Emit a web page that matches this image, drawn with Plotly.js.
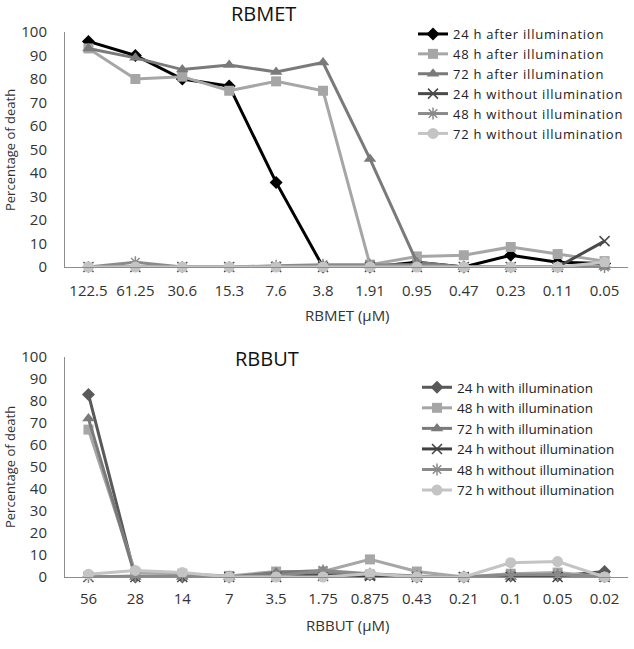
<!DOCTYPE html>
<html><head><meta charset="utf-8">
<script src="https://cdn.plot.ly/plotly-3.0.1.min.js"></script>
<style>html,body{margin:0;padding:0;background:#fff}#c{width:634px;height:649px}
.legendtext{letter-spacing:0.75px}</style>
</head><body><div id="c"></div>
<script>
// Top chart (RBMET)
const metConc = ["122.5","61.25","30.6","15.3","7.6","3.8","1.91","0.95","0.47","0.23","0.11","0.05"];
const met24After = [96, 90, 80, 77, 36, 0, 0, 2, 0, 5, 2, 1.5];
const met48After = [93, 80, 81, 75, 79, 75, 1, 4.5, 5, 8.5, 5.5, 2.5];
const met72After = [93, 89, 84, 86, 83, 87, 46, 2, 0, 0, 0, 0];
const met24Without = [0, 0, 0, 0, 0, 0, 0, 0, 0, 0, 0, 11];
const met48Without = [0, 2, 0, 0, 0.5, 1, 1, 1, 0, 0, 0, 0];
const met72Without = [0, 0, 0, 0, 0, 0, 0, 0, 0, 0, 0, 2];
const metNames = ["24 h after illumination","48 h after illumination","72 h after illumination","24 h without illumination","48 h without illumination","72 h without illumination"];

// Bottom chart (RBBUT)
const butConc = ["56","28","14","7","3.5","1.75","0.875","0.43","0.21","0.1","0.05","0.02"];
const but24With = [83, 0, 0, 0, 1, 1, 1, 0, 0, 0.5, 0.5, 2.5];
const but48With = [67, 2, 1.5, 0.5, 2.5, 2.5, 8, 2.5, 0, 1.5, 2, 0];
const but72With = [72, 0, 0, 0, 2, 3, 0, 0, 0, 0, 1, 0];
const but24Without = [0, 0, 0, 0, 0, 0.5, 0.5, 0, 0, 0, 0, 0];
const but48Without = [0, 0.5, 0.5, 0, 0.5, 3, 1.5, 0.5, 0, 1, 1, 0];
const but72Without = [1.3, 3, 2, 0, 0, 0, 1.5, 0, 0, 6.5, 7, 0];
const butNames = ["24 h with illumination","48 h with illumination","72 h with illumination","24 h without illumination","48 h without illumination","72 h without illumination"];

const styles = [
  {sym:"diamond", size:10, open:false},
  {sym:"square", size:10, open:false},
  {sym:"triangle-up", size:11, open:false},
  {sym:"x-thin-open", size:10, open:true},
  {sym:"asterisk-open", size:10, open:true},
  {sym:"circle", size:11, open:false}
];
const metColors = ["#000000","#a6a6a6","#7a7a7a","#4a4a4a","#8a8a8a","#c4c4c4"];
const butColors = ["#595959","#a6a6a6","#7a7a7a","#404040","#8a8a8a","#c4c4c4"];

function mk(x, y, name, i, colors, xa, ya, lg){
  const s = styles[i];
  return {
    x: x, y: y, name: name, type: "scatter", mode: "lines+markers",
    xaxis: xa, yaxis: ya, legend: lg, cliponaxis: false,
    line: {color: colors[i], width: 3},
    marker: {symbol: s.sym, size: s.size, color: colors[i],
             line: {color: colors[i], width: s.open ? 1.5 : 0}}
  };
}
const metSeries = [met24After, met48After, met72After, met24Without, met48Without, met72Without];
const butSeries = [but24With, but48With, but72With, but24Without, but48Without, but72Without];
const data = [];
metSeries.forEach((s,i)=>data.push(mk(metConc, s, metNames[i], i, metColors, "x", "y", "legend")));
butSeries.forEach((s,i)=>data.push(mk(butConc, s, butNames[i], i, butColors, "x2", "y2", "legend2")));

const W = 634, H = 649;
const fx = p => p / W, fy = p => 1 - p / H;
const tickFont = {family: "Open Sans", size: 15, color: "#333"};
function xax(anchor, standoff){
  return {domain: [fx(65), fx(628)], anchor: anchor, type: "category", range: [-0.5, 11.5],
    showline: true, linecolor: "#8c8c8c", linewidth: 1, showgrid: false, zeroline: false,
    ticks: "", ticklabelstandoff: standoff, tickfont: tickFont, fixedrange: true};
}
function yax(anchor, top, bottom){
  return {domain: [fy(bottom), fy(top)], anchor: anchor, range: [0, 100], dtick: 10,
    showline: true, linecolor: "#8c8c8c", linewidth: 1, showgrid: false, zeroline: false,
    ticks: "", ticklabelstandoff: 14, tickfont: tickFont, fixedrange: true};
}
const layout = {
  width: W, height: H, margin: {l: 0, r: 0, t: 0, b: 0},
  paper_bgcolor: "#fff", plot_bgcolor: "#fff", showlegend: true,
  xaxis: xax("y", 10), yaxis: yax("x", 32, 267),
  xaxis2: xax("y2", 8), yaxis2: yax("x2", 357, 577),
  legend: {x: fx(413), y: fy(19), xanchor: "left", yanchor: "top",
    font: {family: "Open Sans", size: 13, color: "#222"},
    bgcolor: "rgba(0,0,0,0)", tracegroupgap: 0, itemwidth: 30},
  legend2: {x: fx(417), y: fy(372), xanchor: "left", yanchor: "top",
    font: {family: "Open Sans", size: 13.5, color: "#222"},
    bgcolor: "rgba(0,0,0,0)", tracegroupgap: 0, itemwidth: 30},
  annotations: [
    {text: "RBMET", x: fx(263), y: fy(14), xref: "paper", yref: "paper", showarrow: false,
      xanchor: "center", yanchor: "middle", font: {family: "Open Sans", size: 20, color: "#111"}},
    {text: "RBBUT", x: fx(267), y: fy(358), xref: "paper", yref: "paper", showarrow: false,
      xanchor: "center", yanchor: "middle", font: {family: "Open Sans", size: 20, color: "#111"}},
    {text: "Percentage of death", x: fx(10), y: fy(150), xref: "paper", yref: "paper", showarrow: false,
      xanchor: "center", yanchor: "middle", textangle: -90, font: {family: "Open Sans", size: 13, color: "#333"}},
    {text: "Percentage of death", x: fx(10), y: fy(467), xref: "paper", yref: "paper", showarrow: false,
      xanchor: "center", yanchor: "middle", textangle: -90, font: {family: "Open Sans", size: 13, color: "#333"}},
    {text: "RBMET (µM)", x: fx(347), y: fy(315), xref: "paper", yref: "paper", showarrow: false,
      xanchor: "center", yanchor: "middle", font: {family: "Open Sans", size: 15, color: "#333"}},
    {text: "RBBUT (µM)", x: fx(347), y: fy(625), xref: "paper", yref: "paper", showarrow: false,
      xanchor: "center", yanchor: "middle", font: {family: "Open Sans", size: 15, color: "#333"}}
  ]
};
Plotly.newPlot("c", data, layout, {displayModeBar: false, staticPlot: true});
</script></body></html>
